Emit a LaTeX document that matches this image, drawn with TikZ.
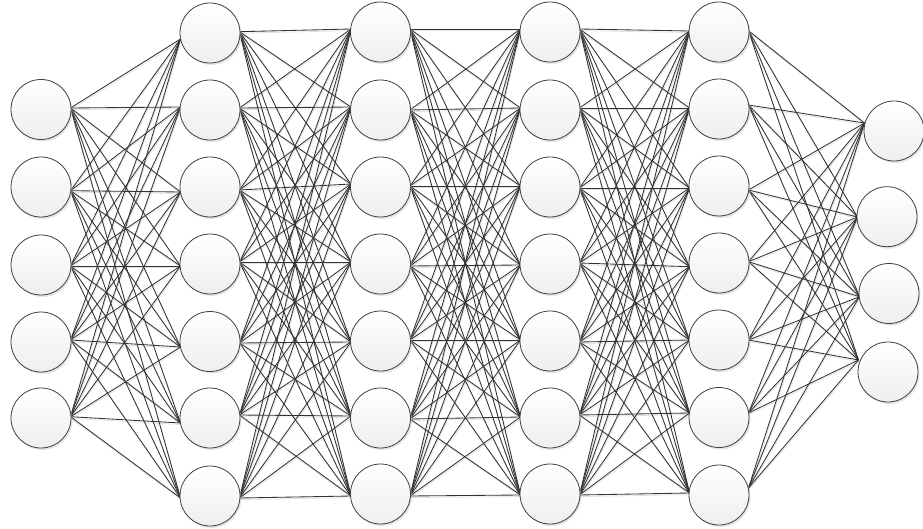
\documentclass[tikz,border=0pt]{standalone}
\usetikzlibrary{shadows,backgrounds}
\definecolor{edgec}{HTML}{333333}
\definecolor{nodeline}{HTML}{404040}
\tikzset{
  neuron/.style={circle, minimum size=60pt, inner sep=0pt, draw=nodeline, line width=0.8pt,
    top color=white, bottom color=gray!13,
    drop shadow={shadow xshift=1.5pt, shadow yshift=-2pt, fill=gray!40, opacity=0.5}},
  link/.style={draw=edgec, line width=0.85pt},
  linkshadow/.style={draw=gray!22, line width=0.8pt, transform canvas={xshift=0.6pt, yshift=-1.6pt}},
}
\newcommand\mklayer[3]{%
  \foreach \yc/\ly/\ry [count=\i] in {#3} {%
    \node[neuron] (n#1-\i) at (#2,\yc) {};
    \coordinate (in#1-\i) at (#2-29.5,\ly);
    \coordinate (out#1-\i) at (#2+29.5,\ry);
  }%
}
\newcommand\mkedges[3]{%
  \foreach \i in {1,...,#2} {\foreach \j in {1,...,#3} {%
    \draw[linkshadow] (out#1-\i) -- (in\the\numexpr#1+1\relax-\j);
  }}%
  \foreach \i in {1,...,#2} {\foreach \j in {1,...,#3} {%
    \draw[link] (out#1-\i) -- (in\the\numexpr#1+1\relax-\j);
  }}%
}
\begin{document}
\begin{tikzpicture}[x=1pt,y=-1pt]
\useasboundingbox (0,0) rectangle (923,529);
\mklayer{0}{41}{109.5/109.5/108, 187/187/190.7, 265/265/266, 342/342/340, 418/418/416.7}
\mklayer{1}{210}{33/39/31.7, 110/107/108, 187/192/190, 264/266/262, 341.5/347/343, 418/423/415, 496/498/498}
\mklayer{2}{380.5}{32/29/29, 110/107/110, 187/184/186, 264/262/266, 341/342/340, 418/416/419, 494/496/496}
\mklayer{3}{550}{32/29/29, 110/108/108, 187/186/188, 264/265/263, 341/340/342, 418/417/415, 494/495/495}
\mklayer{4}{719}{32/31/30.7, 109/108/105, 186/188/190, 263/266.7/261.7, 340/340/340, 417.5/413/413, 495/493/488}
\foreach \xc/\yc/\ly [count=\i] in {894/131/123, 887/216.7/217, 889/293.5/296.7, 888/372/360} {%
  \node[neuron] (n5-\i) at (\xc,\yc) {};
  \coordinate (in5-\i) at (\xc-29.5,\ly);
}
\begin{pgfonlayer}{background}
\mkedges{0}{5}{7}
\mkedges{1}{7}{7}
\mkedges{2}{7}{7}
\mkedges{3}{7}{7}
\mkedges{4}{7}{4}
\end{pgfonlayer}
\end{tikzpicture}
\end{document}
